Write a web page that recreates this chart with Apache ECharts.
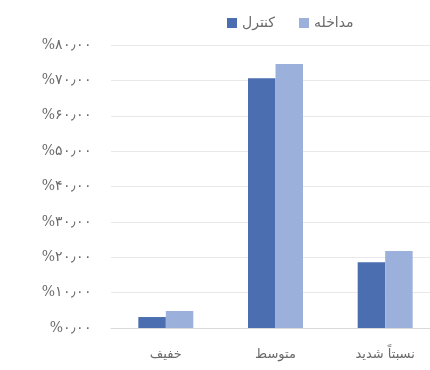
<!DOCTYPE html>
<html>
<head>
<meta charset="utf-8">
<script src="https://cdn.jsdelivr.net/npm/echarts@6/dist/echarts.min.js"></script>
<style>
  html, body { margin: 0; padding: 0; background: #ffffff; overflow: hidden; }
  #chart { width: 445px; height: 370px; }
</style>
</head>
<body>
<div id="chart"></div>
<script>
// Severity categories and the percentage in each group
const categories = ['خفیف', 'متوسط', 'نسبتاً شدید'];
const seriesNames = ['کنترل', 'مداخله'];
const controlValues = [3.1, 70.6, 18.6];
const interventionValues = [4.8, 74.6, 21.8];
const yTicks = [0, 10, 20, 30, 40, 50, 60, 70, 80];

const persianDigits = '۰۱۲۳۴۵۶۷۸۹';
function toPersian(str) {
  return String(str).replace(/[0-9]/g, d => persianDigits[+d]).replace('.', '٫');
}

const chart = echarts.init(document.getElementById('chart'));
chart.setOption({
  backgroundColor: '#ffffff',
  animation: false,
  color: ['#4a6eb0', '#9cb0dc'],
  legend: {
    data: seriesNames,
    top: 11,
    left: 222,
    itemWidth: 10,
    itemHeight: 10,
    itemGap: 24,
    icon: 'rect',
    textStyle: { color: '#6a6a6a', fontSize: 14, fontFamily: 'DejaVu Sans' }
  },
  grid: { left: 111, top: 45, right: 5, height: 283, containLabel: false },
  xAxis: {
    type: 'category',
    data: categories,
    axisTick: { show: false },
    axisLine: { lineStyle: { color: '#d9d9d9' } },
    axisLabel: { color: '#6a6a6a', fontSize: 13, margin: 20, fontFamily: 'DejaVu Sans' }
  },
  yAxis: {
    type: 'value',
    min: yTicks[0],
    max: yTicks[yTicks.length - 1],
    interval: 10,
    axisLine: { show: false },
    axisTick: { show: false },
    splitLine: { lineStyle: { color: '#e8e8e8' } },
    axisLabel: {
      color: '#6a6a6a',
      fontSize: 14,
      margin: 19,
      fontFamily: 'DejaVu Serif',
      formatter: v => '%' + toPersian(v.toFixed(2))
    }
  },
  series: [
    { name: seriesNames[0], type: 'bar', data: controlValues, barWidth: 27.5, barGap: '0%' },
    { name: seriesNames[1], type: 'bar', data: interventionValues, barWidth: 27.5, barGap: '0%' }
  ]
});
</script>
</body>
</html>
